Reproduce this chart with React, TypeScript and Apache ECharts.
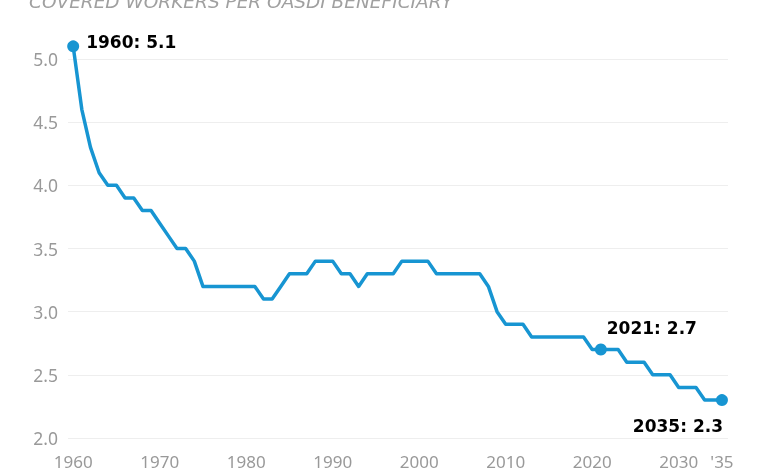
import React, { useEffect, useRef } from "react";
import * as echarts from "echarts";

const years: number[] = [];
for (let y = 1960; y <= 2035; y++) years.push(y);

const ratios = [
  5.1, 4.6, 4.3, 4.1, 4.0, 4.0, 3.9, 3.9, 3.8, 3.8,
  3.7, 3.6, 3.5, 3.5, 3.4, 3.2, 3.2, 3.2, 3.2, 3.2,
  3.2, 3.2, 3.1, 3.1, 3.2, 3.3, 3.3, 3.3, 3.4, 3.4,
  3.4, 3.3, 3.3, 3.2, 3.3, 3.3, 3.3, 3.3, 3.4, 3.4,
  3.4, 3.4, 3.3, 3.3, 3.3, 3.3, 3.3, 3.3, 3.2, 3.0,
  2.9, 2.9, 2.9, 2.8, 2.8, 2.8, 2.8, 2.8, 2.8, 2.8,
  2.7, 2.7, 2.7, 2.7, 2.6, 2.6, 2.6, 2.5, 2.5, 2.5,
  2.4, 2.4, 2.4, 2.3, 2.3, 2.3,
];

const highlightYears = [1960, 2021, 2035];
const xTickValues = [1960, 1970, 1980, 1990, 2000, 2010, 2020, 2030, 2035];
const yTickValues = [2.0, 2.5, 3.0, 3.5, 4.0, 4.5, 5.0];
const titleText = "COVERED WORKERS PER OASDI BENEFICIARY";

const BLUE = "#1795d2";

export default function App() {
  const ref = useRef<HTMLDivElement>(null);
  useEffect(() => {
    if (!ref.current) return;
    const chart = echarts.init(ref.current, undefined, { renderer: "svg" });
    const lineData = years.map((y, i) => [y, ratios[i]]);
    const labelCfg: Record<number, any> = {
      1960: { position: "right", distance: 7, offset: [0, -4] },
      2021: { position: "top", distance: 6, offset: [51, -1] },
      2035: { position: "bottom", distance: 6, offset: [-44, 5] },
    };
    const hiData = highlightYears.map((y) => {
      const v = ratios[years.indexOf(y)];
      return {
        value: [y, v],
        label: {
          show: true,
          formatter: `${y}: ${v.toFixed(1)}`,
          color: "#000",
          opacity: 1,
          ...labelCfg[y],
        },
      };
    });
    chart.setOption({
      animation: false,
      grid: { left: 68, right: 52, top: 59, bottom: 22 },
      graphic: [
        {
          type: "text",
          left: 29,
          top: -8,
          style: {
            text: titleText,
            fill: "#a0a0a0",
            font: "italic 18.5px 'DejaVu Sans'",
          },
        },
      ],
      xAxis: {
        type: "value",
        min: 1959.4,
        max: 2035.7,
        splitLine: { show: false },
        axisLine: { show: false },
        axisTick: { show: false },
        axisLabel: {
          customValues: xTickValues,
          formatter: (v: number) => (v === 2035 ? "'35" : String(v)),
          color: "#999",
          fontSize: 17,
          fontFamily: "Noto Sans",
          margin: 15,
        },
      },
      yAxis: {
        type: "value",
        min: 2,
        max: 5,
        interval: 0.5,
        axisLine: { show: false },
        axisTick: { show: false },
        splitLine: { lineStyle: { color: "#eeeeee", width: 1 } },
        axisLabel: {
          customValues: yTickValues,
          formatter: (v: number) => v.toFixed(1),
          color: "#999",
          fontSize: 17.5,
          fontFamily: "Noto Sans",
          margin: 10,
        },
      },
      series: [
        {
          type: "line",
          data: lineData,
          showSymbol: false,
          clip: false,
          lineStyle: { color: BLUE, width: 3.5, join: "round" },
          z: 2,
        },
        {
          type: "scatter",
          data: hiData,
          symbol: "circle",
          symbolSize: 12,
          clip: false,
          itemStyle: { color: BLUE, opacity: 1 },
          label: {
            color: "#000",
            fontSize: 17,
            fontWeight: "bold",
            fontFamily: "DejaVu Sans",
          },
          z: 3,
        },
      ],
    });
    return () => chart.dispose();
  }, []);
  return (
    <div
      ref={ref}
      style={{ position: "fixed", left: 0, top: 0, width: 780, height: 470 }}
    />
  );
}
